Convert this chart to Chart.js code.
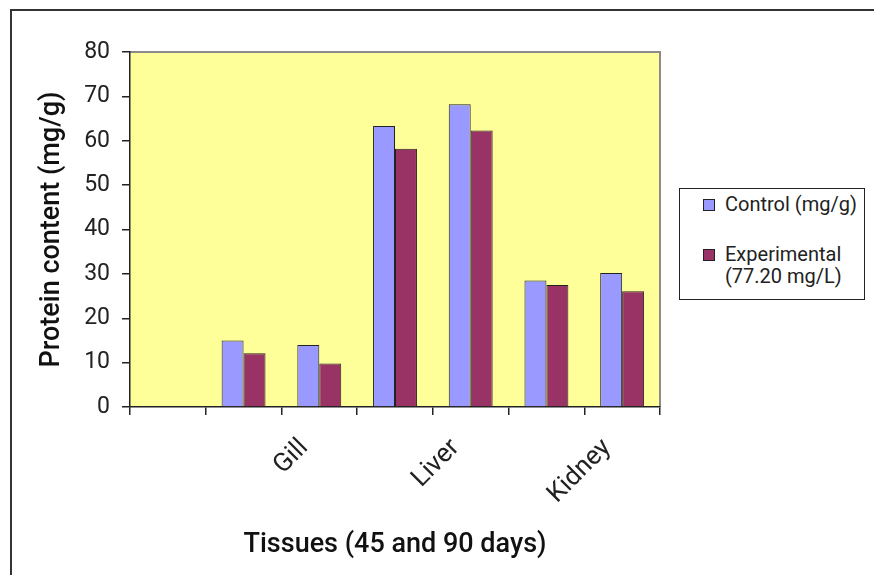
<!DOCTYPE html>
<html lang="en">
<head>
    <meta charset="UTF-8">
    <title>Protein content in tissues</title>
    <style>
        body {
            margin: 0;
            width: 874px;
            height: 575px;
            overflow: hidden;
            background: #fff;
            font-family: Roboto, Arial, sans-serif;
            position: relative;
        }
        #frame {
            position: absolute;
            left: 10px;
            top: 9px;
            width: 900px;
            height: 600px;
            border: 2px solid #333;
        }
        #chart-container {
            position: absolute;
            left: 0;
            top: 0;
            width: 874px;
            height: 575px;
        }
        #legend {
            position: absolute;
            left: 679px;
            top: 188px;
            width: 184px;
            height: 110px;
            border: 1px solid #222;
            background: #fff;
            font-size: 20px;
            color: #222;
        }
        .item {
            position: absolute;
            left: 23px;
            line-height: 22px;
            white-space: nowrap;
        }
        .swatch {
            display: inline-block;
            width: 10px;
            height: 10px;
            border: 1px solid #222;
            margin-right: 10px;
        }
    </style>
</head>
<body>
    <div id="frame"></div>
    <div id="chart-container">
        <canvas id="protein-chart" width="874" height="575"></canvas>
    </div>
    <div id="legend"></div>

    <script src="https://cdn.jsdelivr.net/npm/chart.js"></script>
    <script>
        // 7 category slots as in the original sheet, only some carry a label
        const slots = ['', '', 'Gill', '', 'Liver', '', 'Kidney'];
        const controlValues = [null, 15.0, 14.0, 63.3, 68.2, 28.5, 30.2];
        const experimentalValues = [null, 12.1, 9.8, 58.2, 62.3, 27.5, 26.1];
        const seriesNames = ['Control (mg/g)', 'Experimental\n(77.20 mg/L)'];
        const yTicks = [0, 10, 20, 30, 40, 50, 60, 70, 80];

        const colors = ['#9999FF', '#993366'];

        // yellow plot area with grey top/right border
        const plotArea = {
            id: 'plotArea',
            beforeDraw(chart) {
                const { ctx, chartArea: a } = chart;
                ctx.save();
                ctx.fillStyle = '#FFFF99';
                ctx.fillRect(a.left, a.top, a.right - a.left, a.bottom - a.top);
                ctx.strokeStyle = '#8c8c8c';
                ctx.lineWidth = 2;
                ctx.beginPath();
                ctx.moveTo(a.left, a.top);
                ctx.lineTo(a.right, a.top);
                ctx.lineTo(a.right, a.bottom);
                ctx.stroke();
                ctx.restore();
            }
        };

        const ctx = document.getElementById('protein-chart').getContext('2d');
        const proteinChart = new Chart(ctx, {
            type: 'bar',
            data: {
                labels: slots,
                datasets: [
                    {
                        label: seriesNames[0],
                        data: controlValues,
                        backgroundColor: colors[0],
                        borderColor: '#222',
                        borderWidth: 1,
                        categoryPercentage: 0.58,
                        barPercentage: 1.0
                    },
                    {
                        label: seriesNames[1],
                        data: experimentalValues,
                        backgroundColor: colors[1],
                        borderColor: '#222',
                        borderWidth: 1,
                        categoryPercentage: 0.58,
                        barPercentage: 1.0
                    }
                ]
            },
            options: {
                responsive: false,
                animation: false,
                layout: { padding: { left: 0, top: 52, right: 214, bottom: 0 } },
                plugins: {
                    legend: { display: false },
                    tooltip: { enabled: false }
                },
                scales: {
                    x: {
                        grid: {
                            offset: true,
                            drawOnChartArea: false,
                            drawTicks: true,
                            tickLength: 8,
                            color: '#222',
                            lineWidth: 1.5
                        },
                        border: { color: '#222', width: 1.5 },
                        ticks: {
                            autoSkip: false,
                            minRotation: 45,
                            maxRotation: 45,
                            padding: 18,
                            labelOffset: -15,
                            color: '#222',
                            font: { family: 'Roboto', size: 26 }
                        },
                        title: {
                            display: true,
                            text: 'Tissues (45 and 90 days)',
                            color: '#111',
                            font: { family: 'Roboto', size: 27, weight: '500' },
                            padding: { top: 0, bottom: 14 }
                        },
                        afterFit(scale) { scale.height = 168; }
                    },
                    y: {
                        min: 0,
                        max: 80,
                        afterBuildTicks(scale) {
                            scale.ticks = yTicks.map(v => ({ value: v }));
                        },
                        grid: {
                            drawOnChartArea: false,
                            drawTicks: true,
                            tickLength: 8,
                            color: '#222',
                            lineWidth: 1.5
                        },
                        border: { color: '#222', width: 1.5 },
                        ticks: {
                            padding: 12,
                            color: '#222',
                            font: { family: 'Roboto', size: 23 }
                        },
                        title: {
                            display: true,
                            text: 'Protein content (mg/g)',
                            color: '#111',
                            font: { family: 'Roboto', size: 27, weight: '500' },
                            padding: { top: 36, bottom: 0 }
                        },
                        afterFit(scale) { scale.width = 130; }
                    }
                }
            },
            plugins: [plotArea]
        });

        // legend with a two-line entry, built from the series names
        const legend = document.getElementById('legend');
        const tops = [4, 54];
        seriesNames.forEach((name, i) => {
            const item = document.createElement('div');
            item.className = 'item';
            item.style.top = tops[i] + 'px';
            const lines = name.split('\n');
            item.innerHTML = '<span class="swatch" style="background:' + colors[i] + '"></span>' + lines[0] +
                (lines[1] ? '<br><span style="margin-left:22px">' + lines[1] + '</span>' : '');
            legend.appendChild(item);
        });
    </script>
</body>
</html>
